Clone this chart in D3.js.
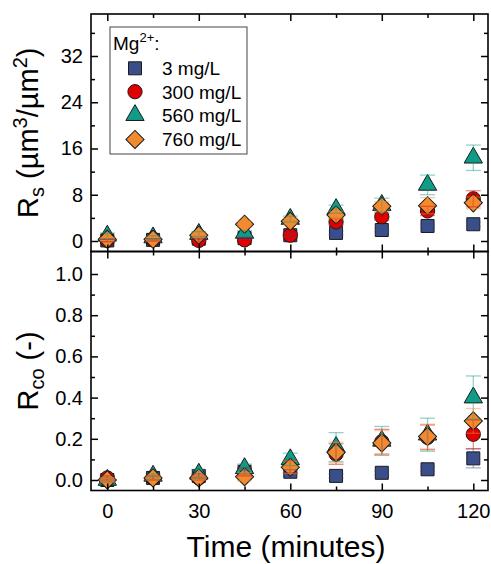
<!DOCTYPE html>
<html>
<head>
<meta charset="utf-8">
<script src="https://cdn.jsdelivr.net/npm/d3@7"></script>
<style>
  html, body { margin: 0; padding: 0; background: #fff; }
  svg { display: block; font-family: Arial, "Liberation Sans", sans-serif; }
</style>
</head>
<body>
<svg id="chart" width="491" height="564"></svg>
<script>
// ---------- data ----------
const times = [0, 15, 30, 45, 60, 75, 90, 105, 120];
const seriesNames = ["3 mg/L", "300 mg/L", "560 mg/L", "760 mg/L"];

// R_s (µm³/µm²)
const rs3   = [0.1, 0.2, 0.4, 0.5, 1.0, 1.4, 1.9, 2.6, 2.9];
const rs300 = [0.1, 0.2, 0.1, 0.2, 1.0, 3.3, 4.2, 5.2, 7.3];
const rs560 = [0.9, 0.6, 1.2, 1.4, 3.8, 5.5, 6.2, 9.7, 14.4];
const rs760 = [0.3, 0.3, 1.0, 2.9, 3.4, 4.5, 6.0, 6.1, 6.6];
const rsErr3   = [0.2, 0.2, 0.2, 0.2, 0.3, 0.3, 0.3, 0.3, 0.4];
const rsErr300 = [0.2, 0.2, 0.3, 0.3, 0.4, 0.6, 0.6, 0.8, 1.4];
const rsErr560 = [0.5, 0.3, 0.4, 0.4, 0.5, 0.7, 1.2, 1.7, 2.2];
const rsErr760 = [0.3, 0.3, 0.4, 0.5, 0.5, 0.6, 0.8, 1.4, 1.0];

// R_co (-)
const rco3   = [0.0, 0.01, 0.02, 0.04, 0.04, 0.02, 0.035, 0.052, 0.105];
const rco300 = [0.01, 0.01, 0.01, 0.04, 0.065, 0.126, 0.186, 0.207, 0.222];
const rco560 = [0.0, 0.02, 0.03, 0.057, 0.10, 0.16, 0.19, 0.22, 0.40];
const rco760 = [0.0, 0.01, 0.01, 0.016, 0.062, 0.134, 0.18, 0.211, 0.287];
const rcoErr3   = [0.01, 0.01, 0.01, 0.01, 0.01, 0.01, 0.01, 0.01, 0.046];
const rcoErr300 = [0.01, 0.01, 0.01, 0.02, 0.03, 0.05, 0.06, 0.06, 0.07];
const rcoErr560 = [0.01, 0.01, 0.02, 0.02, 0.03, 0.07, 0.07, 0.08, 0.105];
const rcoErr760 = [0.01, 0.01, 0.01, 0.02, 0.03, 0.05, 0.06, 0.06, 0.06];

const xMajor = [0, 30, 60, 90, 120];
const xMinor = [15, 45, 75, 105];
const rsMajor = [0, 8, 16, 24, 32];
const rsMinor = [4, 12, 20, 28, 36];
const rcoMajor = [0, 0.2, 0.4, 0.6, 0.8, 1.0];
const rcoMinor = [0.1, 0.3, 0.5, 0.7, 0.9];

// ---------- styles ----------
const colors = ["#3A4F8A", "#E00000", "#109C87", "#F28B30"];
const shapes = ["square", "circle", "triangle", "diamond"];

const svg = d3.select("#chart");
const L = 91, R = 488, T = 14, MID = 251.5, B = 490.5;

const x = d3.scaleLinear().domain([0, 120]).range([107.3, 473.3]);
const yTop = d3.scaleLinear().domain([0, 32]).range([241, 56]);
const yBot = d3.scaleLinear().domain([0, 1]).range([480, 274]);

function symbolPath(shape) {
  if (shape === "square") return d3.symbol(d3.symbolSquare, 169)();
  if (shape === "circle") return d3.symbol(d3.symbolCircle, 160)();
  if (shape === "triangle") return d3.symbol(d3.symbolTriangle, 145)();
  return d3.symbol(d3.symbolSquare, 165)();
}
function drawMarker(g, shape, color, cx, cy) {
  g.append("path")
    .attr("d", symbolPath(shape))
    .attr("transform", `translate(${cx},${cy})` + (shape === "diamond" ? " rotate(45)" : ""))
    .attr("fill", color)
    .attr("stroke", "#1a1a1a")
    .attr("stroke-width", 1);
}

function panel(y, vals, errs, y0, y1, major, minor, fmt) {
  const g = svg.append("g");
  vals.forEach((arr, s) => {
    arr.forEach((v, i) => drawMarker(g, shapes[s], colors[s], x(times[i]), y(v)));
  });
  vals.forEach((arr, s) => {
    arr.forEach((v, i) => {
      const cx = x(times[i]);
      const e = errs[s][i];
      const eg = g.append("g").attr("stroke", colors[s]).attr("stroke-opacity", 0.45).attr("stroke-width", 1.3);
      eg.append("line").attr("x1", cx).attr("x2", cx).attr("y1", y(v - e)).attr("y2", y(v + e));
      eg.append("line").attr("x1", cx - 7.5).attr("x2", cx + 7.5).attr("y1", y(v - e)).attr("y2", y(v - e));
      eg.append("line").attr("x1", cx - 7.5).attr("x2", cx + 7.5).attr("y1", y(v + e)).attr("y2", y(v + e));
    });
  });
  svg.append("rect").attr("x", L).attr("y", y0).attr("width", R - L).attr("height", y1 - y0)
    .attr("fill", "none").attr("stroke", "#000").attr("stroke-width", 1.6);

  const ax = (gen, tr) => {
    const a = svg.append("g").attr("transform", tr).call(gen);
    a.select(".domain").remove();
    a.selectAll("line").attr("stroke", "#000").attr("stroke-width", 1.5);
    a.selectAll("text").attr("font-size", 20).attr("fill", "#000").attr("font-family", "Arial, 'Liberation Sans', sans-serif");
    return a;
  };
  ax(d3.axisLeft(y).tickValues(major).tickSize(-7).tickPadding(8).tickFormat(fmt), `translate(${L},0)`);
  ax(d3.axisLeft(y).tickValues(minor).tickSize(-4).tickFormat(""), `translate(${L},0)`);
  ax(d3.axisRight(y).tickValues(major).tickSize(-7).tickFormat(""), `translate(${R},0)`);
  ax(d3.axisRight(y).tickValues(minor).tickSize(-4).tickFormat(""), `translate(${R},0)`);
  ax(d3.axisTop(x).tickValues(xMajor).tickSize(-7).tickFormat(""), `translate(0,${y0})`);
  ax(d3.axisTop(x).tickValues(xMinor).tickSize(-4).tickFormat(""), `translate(0,${y0})`);
  ax(d3.axisBottom(x).tickValues(xMajor).tickSize(-7).tickFormat(""), `translate(0,${y1})`);
  ax(d3.axisBottom(x).tickValues(xMinor).tickSize(-4).tickFormat(""), `translate(0,${y1})`);
}

panel(yTop, [rs3, rs300, rs560, rs760], [rsErr3, rsErr300, rsErr560, rsErr760], T, MID, rsMajor, rsMinor, d3.format("d"));
panel(yBot, [rco3, rco300, rco560, rco760], [rcoErr3, rcoErr300, rcoErr560, rcoErr760], MID, B, rcoMajor, rcoMinor, d3.format(".1f"));

const xl = svg.append("g").attr("transform", `translate(0,${B})`)
  .call(d3.axisBottom(x).tickValues(xMajor).tickSize(0).tickPadding(13));
xl.select(".domain").remove();
xl.selectAll("text").attr("font-size", 20).attr("fill", "#000").attr("font-family", "Arial, 'Liberation Sans', sans-serif");

svg.append("text").attr("x", 286).attr("y", 557).attr("text-anchor", "middle")
  .attr("font-size", 30).text("Time (minutes)");

const t1 = svg.append("text").attr("transform", `translate(38,${(T + MID) / 2}) rotate(-90)`)
  .attr("text-anchor", "middle").attr("font-size", 29);
t1.append("tspan").text("R");
t1.append("tspan").attr("font-size", 20).attr("dy", 6).text("s");
t1.append("tspan").attr("dy", -6).text(" (µm");
t1.append("tspan").attr("font-size", 20).attr("dy", -11).text("3");
t1.append("tspan").attr("dy", 11).text("/µm");
t1.append("tspan").attr("font-size", 20).attr("dy", -11).text("2");
t1.append("tspan").attr("dy", 11).text(")");

const t2 = svg.append("text").attr("transform", `translate(38,${(MID + B) / 2}) rotate(-90)`)
  .attr("text-anchor", "middle").attr("font-size", 29);
t2.append("tspan").text("R");
t2.append("tspan").attr("font-size", 20).attr("dy", 6).text("co");
t2.append("tspan").attr("dy", -6).text(" (-)");

const lg = svg.append("g");
lg.append("rect").attr("x", 110).attr("y", 27).attr("width", 137).attr("height", 127)
  .attr("fill", "#fff").attr("stroke", "#444").attr("stroke-width", 1);
const lt = lg.append("text").attr("x", 113).attr("y", 50).attr("font-size", 19);
lt.append("tspan").text("Mg");
lt.append("tspan").attr("font-size", 13).attr("dy", -8).text("2+");
lt.append("tspan").attr("dy", 8).text(":");
const rowY = [68.3, 91.7, 115.2, 139.5];
seriesNames.forEach((n, i) => {
  drawMarker(lg, shapes[i], colors[i], 135, rowY[i]);
  lg.append("text").attr("x", 162).attr("y", rowY[i] + 6.8).attr("font-size", 19).text(n);
});
</script>
</body>
</html>
